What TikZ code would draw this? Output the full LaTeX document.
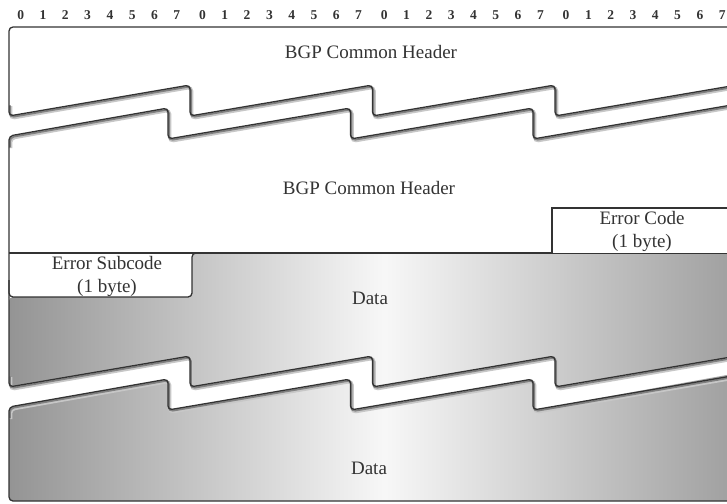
\documentclass[tikz,border=0pt]{standalone}
\usepackage{fontspec}
\setmainfont{Liberation Serif}
\begin{document}
\begin{tikzpicture}[x=1pt,y=-1pt,
  outline/.style={draw=black!80, line width=1.3pt, rounded corners=4pt, line join=round},
  shadowA/.style={draw=black!22, line width=3.4pt, rounded corners=4pt, shift={(1.6pt,-2.2pt)}},
  shadowB/.style={draw=black!50, line width=1.8pt, rounded corners=4pt, shift={(0.9pt,-1.3pt)}},
  lbl/.style={font=\fontsize{19}{23}\selectfont, text=black!80, inner sep=0pt},
  bit/.style={font=\fontsize{13.5}{15}\selectfont\bfseries, text=black!80, inner sep=0pt},
  grayfill/.style={left color=black!42, right color=black!40, middle color=black!3}]
\useasboundingbox (0,0) rectangle (727,503);
\clip (0,0) rectangle (727,503);
\fill[white] (0,0) rectangle (727,503);

% bit labels
\foreach \b in {0,...,3}{
  \foreach \i in {0,...,7}{
    \node[bit] (bit\b\i) at ({20.7+181.8*\b+22.3*\i},15.5) {\i};
  }
}

% ---- top box (BGP common header, part 1)
\coordinate (tbR) at (745,27);
\foreach \s in {shadowA,shadowB}{
  \draw[\s] (9,104) -- (9,116) -- (190,85) -- (190,116) -- (372.5,85) -- (372.5,116) -- (555,85) -- (555,116) -- (737,85) -- (755,82);
}
\draw[outline] (tbR) -- (9,27) -- (9,116) -- (190,85) -- (190,116) -- (372.5,85) -- (372.5,116) -- (555,85) -- (555,116) -- (737,85) -- (755,82);

% ---- second box (BGP common header, part 2)
\foreach \s in {shadowA,shadowB}{
  \draw[\s] (755,101) -- (533,139) -- (533,108) -- (350.5,139) -- (350.5,108) -- (168,139) -- (168,108) -- (9,136) -- (9,146);
}
\draw[outline] (755,101) -- (533,139) -- (533,108) -- (350.5,139) -- (350.5,108) -- (168,139) -- (168,108) -- (9,136) -- (9,297);

% ---- upper data region
\shade[grayfill, rounded corners=4pt]
  (192,253) -- (760,253) -- (760,353) -- (737,356) -- (555,387) -- (555,356) -- (372.5,387) -- (372.5,356) -- (190,387) -- (190,356) -- (9,387) -- (9,297) -- (192,297) -- cycle;
\draw[outline] (9,253) -- (760,253);
\draw[outline] (9,280) -- (9,297) -- (192,297) -- (192,253) -- (200,253);
\foreach \s in {shadowA,shadowB}{
  \draw[\s] (9,375) -- (9,387) -- (190,356) -- (190,387) -- (372.5,356) -- (372.5,387) -- (555,356) -- (555,387) -- (737,356) -- (755,353);
}
\draw[outline] (9,297) -- (9,387) -- (190,356) -- (190,387) -- (372.5,356) -- (372.5,387) -- (555,356) -- (555,387) -- (737,356) -- (755,353);

% ---- lower data region
\shade[grayfill, rounded corners=4pt]
  (760,369) -- (533,410) -- (533,379) -- (350.5,410) -- (350.5,379) -- (168,410) -- (168,379) -- (9,407) -- (9,501) -- (760,501) -- cycle;
\foreach \s in {shadowA,shadowB}{
  \draw[\s] (755,372) -- (533,410) -- (533,379) -- (350.5,410) -- (350.5,379) -- (168,410) -- (168,379) -- (9,407) -- (9,417);
}
\draw[outline] (755,372) -- (533,410) -- (533,379) -- (350.5,410) -- (350.5,379) -- (168,410) -- (168,379) -- (9,407) -- (9,501) -- (760,501);

% ---- error code box
\draw[draw=black!80, line width=1.3pt, fill=white] (552,253) -- (552,208) -- (760,208) -- (760,253);

% ---- texts
\node[lbl] (hdr1) at (371,52) {BGP Common Header};
\node[lbl] (hdr2) at (369,188) {BGP Common Header};
\node[lbl, align=center] (ecode) at (642,231) {Error Code\\(1 byte)};
\node[lbl, align=center] (esub) at (107,276) {Error Subcode\\(1 byte)};
\node[lbl] (data1) at (370,298) {Data};
\node[lbl] (data2) at (369,468) {Data};
\end{tikzpicture}
\end{document}
